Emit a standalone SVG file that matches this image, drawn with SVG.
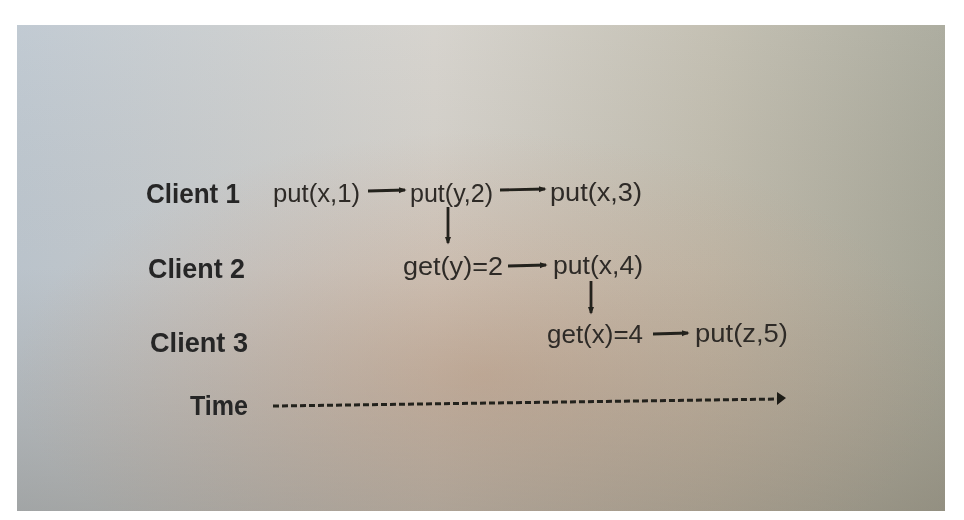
<svg xmlns="http://www.w3.org/2000/svg" width="964" height="520" viewBox="0 0 964 520">
  <defs>
    <linearGradient id="paperH" x1="0" y1="0" x2="1" y2="0">
      <stop offset="0" stop-color="#bcc6cf"/>
      <stop offset="0.45" stop-color="#d3d0ca"/>
      <stop offset="0.75" stop-color="#bfbbad"/>
      <stop offset="1" stop-color="#a6a698"/>
    </linearGradient>
    <linearGradient id="paperV" x1="0" y1="0" x2="0" y2="1">
      <stop offset="0" stop-color="#ffffff" stop-opacity="0.08"/>
      <stop offset="0.5" stop-color="#8a7a68" stop-opacity="0.04"/>
      <stop offset="1" stop-color="#6e6455" stop-opacity="0.34"/>
    </linearGradient>
    <radialGradient id="warm" cx="0.5" cy="0.72" r="0.5">
      <stop offset="0" stop-color="#c49c80" stop-opacity="0.55"/>
      <stop offset="1" stop-color="#c49c80" stop-opacity="0"/>
    </radialGradient>
    <filter id="soft" x="-5%" y="-20%" width="110%" height="140%">
      <feGaussianBlur stdDeviation="0.6"/>
    </filter>
    <marker id="head" viewBox="0 0 10 10" refX="8" refY="5" markerWidth="2.8" markerHeight="2.8" orient="auto" markerUnits="strokeWidth">
      <path d="M0,1 L10,5 L0,9 z" fill="#24201c"/>
    </marker>
  </defs>
  <style>
    .lbl { font-family: "Liberation Sans", Arial, sans-serif; font-weight: bold; font-size: 28px; fill: #262627; }
    .op { font-family: "Liberation Sans", Arial, sans-serif; font-size: 26px; fill: #2e2b28; }
    .arr { stroke: #24201c; stroke-width: 2.8; fill: none; marker-end: url(#head); }
    .time { stroke: #24201c; stroke-width: 3; stroke-dasharray: 6 3; fill: none; }
  </style>

  <rect x="0" y="0" width="964" height="520" fill="#ffffff"/>
  <g id="paper">
    <rect x="17" y="25" width="928" height="486" fill="url(#paperH)"/>
    <rect x="17" y="25" width="928" height="486" fill="url(#warm)"/>
    <rect x="17" y="25" width="928" height="486" fill="url(#paperV)"/>
  </g>

  <g filter="url(#soft)">
    <g id="client1"><text class="lbl" x="146" y="203" textLength="94" lengthAdjust="spacingAndGlyphs">Client 1</text></g>
    <g id="client2"><text class="lbl" x="148" y="278" textLength="97" lengthAdjust="spacingAndGlyphs">Client 2</text></g>
    <g id="client3"><text class="lbl" x="150" y="352" textLength="98" lengthAdjust="spacingAndGlyphs">Client 3</text></g>
    <g id="time"><text class="lbl" x="190" y="415" textLength="58" lengthAdjust="spacingAndGlyphs">Time</text></g>

    <g id="put_x1"><text class="op" x="273" y="202" textLength="87" lengthAdjust="spacingAndGlyphs">put(x,1)</text></g>
    <g id="put_y2"><text class="op" x="410" y="202" textLength="83" lengthAdjust="spacingAndGlyphs">put(y,2)</text></g>
    <g id="put_x3"><text class="op" x="550" y="201" textLength="92" lengthAdjust="spacingAndGlyphs">put(x,3)</text></g>
    <g id="get_y2"><text class="op" x="403" y="275" textLength="100" lengthAdjust="spacingAndGlyphs">get(y)=2</text></g>
    <g id="put_x4"><text class="op" x="553" y="274" textLength="90" lengthAdjust="spacingAndGlyphs">put(x,4)</text></g>
    <g id="get_x4"><text class="op" x="547" y="343" textLength="96" lengthAdjust="spacingAndGlyphs">get(x)=4</text></g>
    <g id="put_z5"><text class="op" x="695" y="342" textLength="93" lengthAdjust="spacingAndGlyphs">put(z,5)</text></g>

    <g id="connectors">
      <line class="arr" x1="368" y1="191" x2="405" y2="190"/>
      <line class="arr" x1="500" y1="190" x2="545" y2="189"/>
      <line class="arr" x1="448" y1="207" x2="448" y2="243"/>
      <line class="arr" x1="508" y1="266" x2="546" y2="265"/>
      <line class="arr" x1="591" y1="281" x2="591" y2="313"/>
      <line class="arr" x1="653" y1="334" x2="688" y2="333"/>
      <line class="time" x1="273" y1="406" x2="778" y2="399"/>
      <path d="M777,392 L786,398 L777,405 z" fill="#1e1a16"/>
    </g>
  </g>
</svg>
